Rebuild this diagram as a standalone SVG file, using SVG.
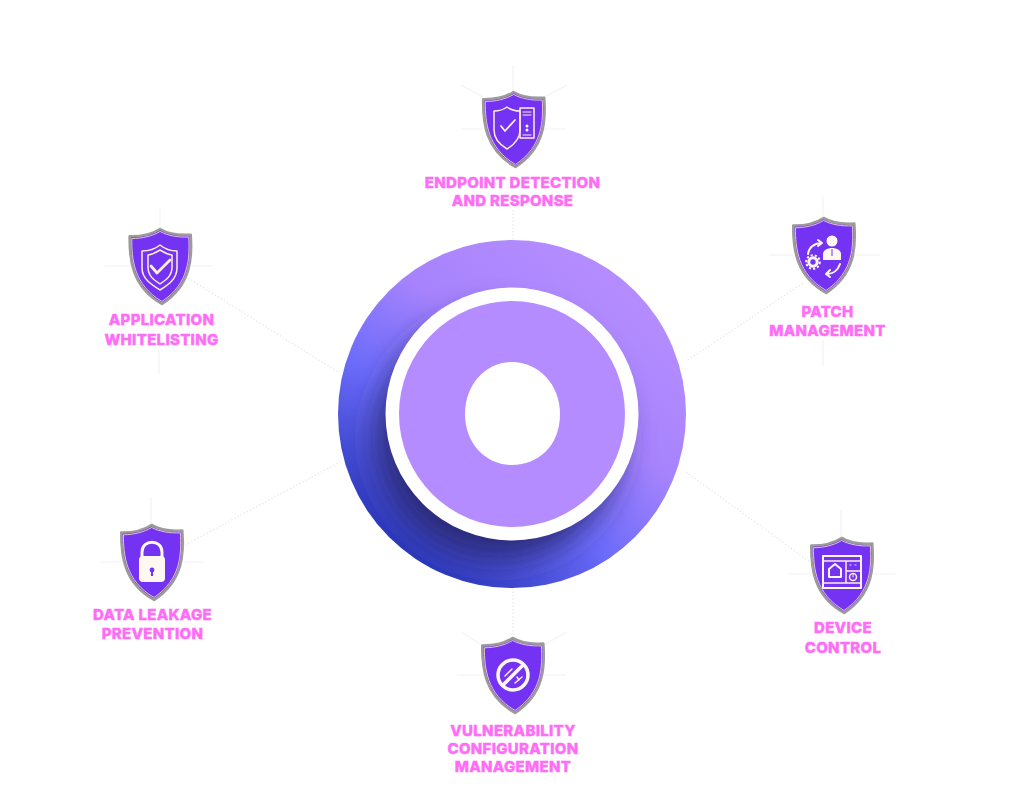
<svg xmlns="http://www.w3.org/2000/svg" width="1024" height="793" viewBox="0 0 1024 793">
<style>
.lab{font-family:"Inter","Liberation Sans",sans-serif;font-weight:800;font-size:15px;letter-spacing:.3px;fill:#ff6cf6;text-anchor:middle;stroke:#ff6cf6;stroke-width:.4}
.sh{fill:#7433f3;stroke:#9b9b9b;stroke-width:2.600;stroke-linejoin:round}
.in{fill:none;stroke:#ffe4c8;stroke-width:.8}
.ln{fill:none;stroke:#ffeedd;stroke-width:1.500;stroke-linecap:round;stroke-linejoin:round}
.hair{fill:none;stroke:#f1f1f1;stroke-width:1}
.dot{fill:none;stroke:#e8e8ec;stroke-width:1.200;stroke-dasharray:1.500 2}
.ic{fill:none;stroke:#fff6ec;stroke-width:2;stroke-linecap:round;stroke-linejoin:round}
.f{fill:#fff8f0;stroke:none}
</style>
<defs>
<linearGradient id="g" x1=".78" y1=".12" x2=".2" y2=".88">
<stop offset="0" stop-color="#b48cff"/><stop offset=".36" stop-color="#a683fd"/><stop offset=".66" stop-color="#6c6cfb"/><stop offset="1" stop-color="#2f3bc0"/>
</linearGradient>
<filter id="b" x="-30%" y="-30%" width="160%" height="160%"><feGaussianBlur stdDeviation="16"/></filter>
<clipPath id="c"><circle cx="512" cy="414" r="174"/></clipPath>
<g id="shield"><path class="sh" d="M0,1C8,6 19,8 30.500,7.500C31.500,30 30,58 0,76C-30,58 -31.500,30 -30.500,7.500C-19,8 -8,6 0,1Z"/><path class="in" d="M0,3.500C8,8 18,10 28.500,9.800C29,30 28,56 0,73.500C-28,56 -29,30 -28.500,9.800C-18,10 -8,8 0,3.500Z"/></g>
</defs>
<rect width="1024" height="793" fill="#fff"/>
<g id="connectors">
<path class="hair" d="M513 65V90M461 129H483M544 129H566M461 85L483 97M567 85L544 97"/>
<path class="hair" d="M823 196V217M769 255H793M854 255H880M823 340V365"/>
<path class="hair" d="M160 207V228M105 266H130M191 266H213M159 345V373"/>
<path class="hair" d="M151 497V524M100 562H121M183 562H204"/>
<path class="hair" d="M457 675H482M544 675H566M461 632L482 645M567 632L544 645"/>
<path class="hair" d="M841 510V537M788 574H811M873 574H895"/>
<path class="dot" d="M513 210V240M513 588V636M688 360L803 283M188 278L338 372M185 545L340 462M686 472L810 562"/>
</g>
<g id="hub">
<circle cx="512" cy="414" r="174" fill="url(#g)"/>
<g clip-path="url(#c)"><circle cx="498" cy="438" r="122" fill="#2a2a78" filter="url(#b)"/></g>
<circle cx="512" cy="414" r="126.500" fill="#fff"/>
<circle cx="512" cy="414" r="113" fill="#b48cff"/>
<path fill="#fff" d="M512 362C538 362 560 384 560 414C560 446 538 465 512 465C486 465 465 444 465 414C465 384 486 362 512 362Z"/>
</g>
<g id="endpoint">
<use href="#shield" transform="translate(513.500,91) rotate(-1.500)"/>
<path class="ln" d="M507 107C512 111 518 111 520 111V130C520 140 512 146 507 149C502 146 494 140 494 130V111C498 111 503 110 507 107Z"/>
<path class="ln" style="stroke-width:1.800" d="M501 126L505 131L515 120"/>
<rect class="ln" x="520" y="108" width="14" height="30"/>
<path class="ln" style="stroke-width:1" d="M523 112H531M523 115H531M523 135H531"/><circle class="f" cx="527" cy="126" r="1.500"/><circle class="f" cx="527" cy="130" r="1.500"/>
<text class="lab" x="512.500" y="188">ENDPOINT DETECTION</text><text class="lab" x="512.500" y="206">AND RESPONSE</text>
</g>
<g id="patch">
<use href="#shield" transform="translate(823.500,217) rotate(-2)"/>
<circle class="f" cx="832" cy="241" r="5.500"/><path class="f" d="M823 260V254C823 250 828 248 832 248C836 248 841 250 841 254V260Z"/><path d="M832 249V256" stroke="#7433f3" stroke-width="1"/>
<path class="ic" d="M808 254C809 247 815 243 821 243M818 240L822 243L818 246"/>
<path class="ic" d="M840 264C838 270 833 274 827 274M830 270L826 274L830 277"/>
<circle cx="813" cy="262" r="4.200" fill="none" stroke="#fff8f0" stroke-width="3"/><circle cx="813" cy="262" r="6.800" fill="none" stroke="#fff8f0" stroke-width="2" stroke-dasharray="2.200 2"/>
<text class="lab" x="827.500" y="317">PATCH</text><text class="lab" x="827.500" y="336">MANAGEMENT</text>
</g>
<g id="whitelist">
<use href="#shield" transform="translate(160,228) rotate(-1.500)"/>
<path class="ln" d="M160 245C166 250 172 251 177 251V268C177 279 168 285 160 290C152 285 142 279 142 268V251C148 251 154 250 160 245Z"/>
<path class="ln" d="M160 250C165 253 169 255 172 255V267C172 276 166 280 160 284C154 280 148 276 148 267V255C151 255 155 253 160 250Z"/>
<path class="ln" style="stroke-width:2.800" d="M151 266L157 273L170 260"/>
<text class="lab" x="161.500" y="325">APPLICATION</text><text class="lab" x="161.500" y="345">WHITELISTING</text>
</g>
<g id="leakage">
<use href="#shield" transform="translate(151.500,524) rotate(-2)"/>
<path fill="none" stroke="#fff8f0" stroke-width="3" d="M142 558V552C142 539 162 539 162 552V558"/>
<rect class="f" x="139" y="556" width="26" height="26" rx="4"/>
<circle cx="152" cy="570" r="2.400" fill="#7433f3"/><rect x="151" y="570" width="2" height="6" fill="#7433f3"/>
<text class="lab" x="152.500" y="620">DATA LEAKAGE</text><text class="lab" x="152.500" y="639">PREVENTION</text>
</g>
<g id="vulnerability">
<use href="#shield" transform="translate(512.500,637) rotate(-2)"/>
<circle cx="513" cy="675" r="15" fill="none" stroke="#fff8f0" stroke-width="3.500"/>
<path stroke="#fff8f0" stroke-width="3.500" d="M502 686L524 664"/>
<path class="ln" d="M505 676L512 669M515 683L522 677M517 677L519 680"/>
<text class="lab" x="513" y="736">VULNERABILITY</text><text class="lab" x="513" y="754">CONFIGURATION</text><text class="lab" x="513" y="772">MANAGEMENT</text>
</g>
<g id="device">
<use href="#shield" transform="translate(841.500,537) rotate(-2)"/>
<rect class="ic" x="823" y="556" width="38" height="32"/>
<path class="ln" d="M823 561H861M846 561V583M823 583H861M846 571H861"/>
<path class="ic" d="M829 577V569L835 564L841 569V577Z"/>
<circle class="ln" cx="853" cy="577" r="3.500"/><path class="ln" style="stroke-width:1" d="M853 574V577M850 565H851M855 565H856"/>
<text class="lab" x="843" y="633">DEVICE</text><text class="lab" x="843" y="653">CONTROL</text>
</g>
</svg>
